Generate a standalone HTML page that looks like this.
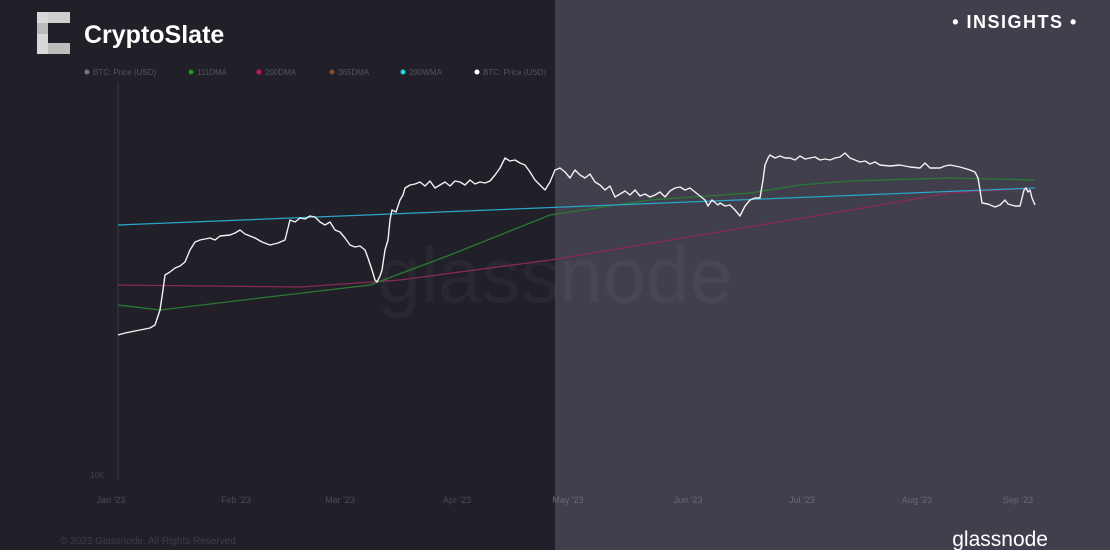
<!DOCTYPE html>
<html><head><meta charset="utf-8"><style>
body{margin:0;width:1110px;height:550px;overflow:hidden;font-family:"Liberation Sans",sans-serif}
</style></head><body>
<svg width="1110" height="550" viewBox="0 0 1110 550" xmlns="http://www.w3.org/2000/svg">
<rect x="0" y="0" width="555" height="550" fill="#211f28"/>
<rect x="555" y="0" width="555" height="550" fill="#413f4c"/>
<text x="555" y="302" font-size="78" fill="#ffffff" fill-opacity="0.04" text-anchor="middle" font-family="Liberation Sans">glassnode</text>
<!-- logo -->
<rect x="37" y="12" width="11" height="42" fill="#d8d8d8"/>
<rect x="48" y="12" width="22" height="11" fill="#cfcfcf"/>
<rect x="48" y="43" width="22" height="11" fill="#bdbdbd"/>
<rect x="37" y="23" width="11" height="11" fill="#bbbbbb"/>
<text x="84" y="43" font-size="25" font-weight="bold" fill="#ffffff">CryptoSlate</text>
<text x="1015" y="28" font-size="18" font-weight="bold" fill="#ffffff" text-anchor="middle" letter-spacing="1.5">• INSIGHTS •</text>
<!-- legend -->
<g font-size="8" fill="#55535e">
<circle cx="87" cy="72" r="2.5" fill="#777"/><text x="93" y="75">BTC: Price (USD)</text>
<circle cx="191" cy="72" r="2.5" fill="#1a9a2a"/><text x="197" y="75">111DMA</text>
<circle cx="259" cy="72" r="2.5" fill="#c2185b"/><text x="265" y="75">200DMA</text>
<circle cx="332" cy="72" r="2.5" fill="#8a4b2a"/><text x="338" y="75">365DMA</text>
<circle cx="403" cy="72" r="2.5" fill="#18d8e8"/><text x="409" y="75">200WMA</text>
<circle cx="477" cy="72" r="2.5" fill="#fff"/><text x="483" y="75">BTC: Price (USD)</text>
</g>
<line x1="118" y1="82" x2="118" y2="480" stroke="#3a3844" stroke-width="1"/>
<text x="90" y="478" font-size="8" fill="#44424c">10K</text>
<g font-size="9" fill="#4c4a56" text-anchor="middle">
<text x="111" y="503">Jan '23</text><text x="236" y="503">Feb '23</text><text x="340" y="503">Mar '23</text>
<text x="457" y="503">Apr '23</text><text x="568" y="503" fill="#6a6876">May '23</text><text x="688" y="503" fill="#6a6876">Jun '23</text>
<text x="802" y="503" fill="#6a6876">Jul '23</text><text x="917" y="503" fill="#6a6876">Aug '23</text><text x="1018" y="503" fill="#6a6876">Sep '23</text>
</g>
<text x="60" y="544" font-size="10" fill="#3e3c46">© 2023 Glassnode. All Rights Reserved</text>
<text x="1048" y="546" font-size="21" fill="#ffffff" text-anchor="end">glassnode</text>
<!-- MAs -->
<polyline fill="none" stroke="#8a2a55" stroke-width="1.3" points="118,285 300,287 400,280 550,260 700,235 850,210 950,193 1035,188"/>
<polyline fill="none" stroke="#2a7a35" stroke-width="1.3" points="118,305 160,310 260,298 370,285 450,255 550,215 650,200 750,193 800,185 850,181 950,178 1035,180"/>
<polyline fill="none" stroke="#2aa6c8" stroke-width="1.3" points="118,225 1035,188"/>
<!-- price -->
<polyline fill="none" stroke="#f2f2f2" stroke-width="1.4" stroke-linejoin="round" points="118,335 125,333 130,332 140,330 150,328 155,325 160,310 163,290 165,275 170,272 175,268 180,266 185,262 190,250 195,242 200,240 210,238 215,240 220,236 230,235 235,233 240,230 245,234 255,238 262,242 270,245 278,243 285,240 288,228 290,220 295,222 300,218 305,219 310,216 315,217 320,222 325,225 330,222 335,230 340,232 345,238 350,245 355,247 360,246 365,250 368,258 372,270 375,280 377,282 380,276 382,270 385,250 388,240 390,220 392,210 396,212 400,200 403,195 405,188 410,185 415,184 420,182 425,186 430,181 435,188 440,185 445,182 450,186 455,181 460,182 465,185 470,180 475,184 480,182 485,183 490,181 495,175 500,168 505,158 510,161 515,160 520,163 525,165 530,172 535,180 540,185 545,190 550,182 555,170 560,168 565,172 570,178 575,170 580,175 585,178 590,174 595,182 600,185 605,190 610,186 615,197 620,194 625,191 630,195 635,190 640,196 645,194 650,197 655,195 660,192 665,197 670,191 675,188 680,187 685,190 690,188 695,192 700,196 705,200 708,206 712,200 718,205 720,203 725,206 730,205 735,210 740,216 745,206 750,200 755,198 760,198 763,180 765,165 768,158 770,155 775,158 780,156 785,158 790,158 795,160 800,156 805,159 810,158 815,157 820,160 825,159 830,160 835,158 840,157 845,153 850,158 855,160 860,162 865,161 870,164 875,162 880,165 890,166 900,165 910,167 920,168 925,163 930,168 940,168 945,166 950,165 960,167 970,170 975,172 978,178 980,190 982,203 988,204 995,207 1000,205 1005,200 1008,204 1015,206 1020,206 1024,190 1026,188 1028,192 1030,190 1032,198 1035,205"/>
</svg>
</body></html>
